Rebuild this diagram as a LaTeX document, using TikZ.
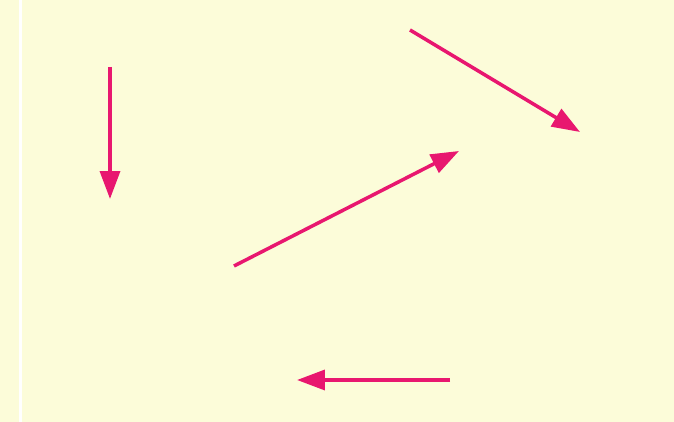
\documentclass[tikz,border=0pt]{standalone}
\usepackage{tikz}
\usetikzlibrary{arrows.meta}
\definecolor{pgPaper}{HTML}{FCFCD9}
\definecolor{pgMagenta}{HTML}{E8176F}
\tikzset{
  paper/.style    ={fill=pgPaper,draw=none},
  seam/.style     ={fill=white,draw=none},
  vecarrow/.style ={-{Triangle[length=5.6mm,width=4mm]},pgMagenta,line width=2pt},
}
\begin{document}
\begin{tikzpicture}[x=0.02cm,y=-0.02cm]
% paper and the white seam on the left
\fill[paper] (0,0) rectangle (674,422);
\fill[seam] (19,0) rectangle (22,422);
\useasboundingbox (0,0) rectangle (674,422);

\foreach \n/\p in {s1/{110,67}, e1/{110,199},
                   s2/{410,30}, e2/{580,132},
                   s3/{234,266}, e3/{459,151},
                   s4/{450,380}, e4/{297,380}}
  { \coordinate (\n) at (\p); }

\foreach \k in {1,...,4}
  { \draw[vecarrow] (s\k) -- (e\k); }
\end{tikzpicture}
\end{document}
